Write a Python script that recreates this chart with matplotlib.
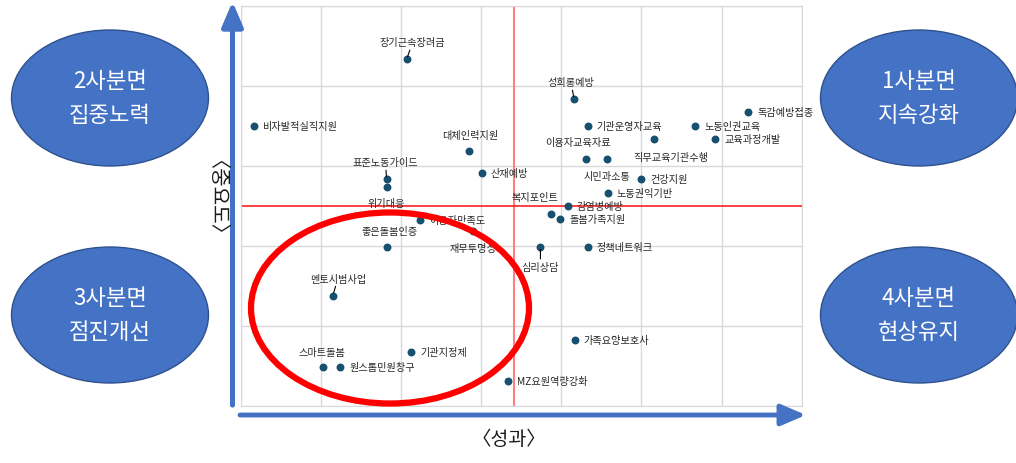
import matplotlib
matplotlib.use("Agg")
import matplotlib.pyplot as plt
from matplotlib.patches import Ellipse

plt.rcParams['font.family'] = ['Noto Sans CJK KR', 'DejaVu Sans']

# 사업별 성과(x) / 중요도(y)
names = ['장기근속장려금', '비자발적실직지원', '대체인력지원', '표준노동가이드', '위기대응',
         '산재예방', '성희롱예방', '독감예방접종', '기관운영자교육', '노동인권교육',
         '직무교육기관수행', '교육과정개발', '이용자교육자료', '시민과소통', '건강지원',
         '노동권익기반', '감염병예방', '복지포인트', '돌봄가족지원', '이용자만족도',
         '좋은돌봄인증', '재무투명성', '심리상담', '정책네트워크', '멘토시범사업',
         '가족요양보호사', '기관지정제', '스마트돌봄', '원스톱민원창구', 'MZ요원역량강화']
perf = [3.507, 3.316, 3.585, 3.482, 3.482,
        3.601, 3.716, 3.933, 3.733, 3.867,
        3.816, 3.892, 3.731, 3.757, 3.800,
        3.758, 3.708, 3.687, 3.699, 3.524,
        3.482, 3.590, 3.674, 3.733, 3.415,
        3.717, 3.513, 3.403, 3.424, 3.633]
imp = [3.933, 3.850, 3.818, 3.783, 3.773,
       3.791, 3.883, 3.867, 3.850, 3.850,
       3.833, 3.833, 3.809, 3.809, 3.784,
       3.766, 3.750, 3.740, 3.733, 3.732,
       3.699, 3.718, 3.699, 3.699, 3.638,
       3.582, 3.567, 3.549, 3.549, 3.531]
perf_mean = 3.641
imp_mean = 3.750

quad_titles = ['1사분면', '2사분면', '3사분면', '4사분면']
quad_texts = ['지속강화', '집중노력', '점진개선', '현상유지']

# label offsets in image pixels (dx, dy downwards), alignment, leader line
R = (9, 0, 'left', False)
label_pos = [(6, -17, 'center', True), R, (1, -16, 'center', False), (-1, -17, 'center', True),
             (0, 16, 'center', False),
             R, (-3, -17, 'center', True), R, R, R,
             (17, 18, 'center', False), R, (-8, -17, 'center', False), (0, 17, 'center', False), R,
             R, R, (-16, -17, 'center', False), R, R,
             (3, -16, 'center', False), (0, 17, 'center', False), (0, 20, 'center', True), R,
             (5, -17, 'center', True),
             R, R, (-1, -15, 'center', False), R, R]

W, H = 1016, 464
fig = plt.figure(figsize=(W / 100, H / 100), dpi=100)
ax = fig.add_axes([240.7 / W, 1 - 407 / H, 561 / W, 400.3 / H])

ax.set_xlim(3.3, 4.0)
ax.set_ylim(3.5, 4.0)
ax.set_xticks([3.3 + 0.1 * i for i in range(8)])
ax.set_yticks([3.5 + 0.1 * i for i in range(6)])
ax.tick_params(length=0, labelbottom=False, labelleft=False)
ax.grid(True, color='#d9d9d9', lw=1)
ax.set_axisbelow(True)
for s in ax.spines.values():
    s.set_color('#d9d9d9')

ax.axvline(perf_mean, color='#ff7f7f', lw=1.5, zorder=2)
ax.axhline(imp_mean, color='#ff2020', lw=1.2, zorder=2)

ax.scatter(perf, imp, s=22, color='#17506f', zorder=3)

for n, x, y, (dx, dy, ha, lead) in zip(names, perf, imp, label_pos):
    kw = {}
    if lead:
        kw['arrowprops'] = dict(arrowstyle='-', color='black', lw=0.8, shrinkA=0, shrinkB=2)
    ax.annotate(n, (x, y), xytext=(dx, -dy), textcoords='offset pixels',
                ha=ha, va='center', fontsize=7.3, color='#262626', zorder=4, **kw)

# quadrant ellipses
quad_centers = [(919, 99), (110, 99), (110, 316), (919, 316)]
for (cx, cy), t1, t2 in zip(quad_centers, quad_titles, quad_texts):
    fig.add_artist(Ellipse((cx / W, 1 - cy / H), 197 / W, 136 / H,
                           transform=fig.transFigure, facecolor='#4472c4',
                           edgecolor='#2f528f', lw=1))
    fig.text(cx / W, 1 - (cy - 17) / H, t1, ha='center', va='center',
             color='white', fontsize=16)
    fig.text(cx / W, 1 - (cy + 17) / H, t2, ha='center', va='center',
             color='white', fontsize=16)

# red circle around 3rd quadrant
fig.add_artist(Ellipse((390 / W, 1 - 309 / H), 278 / W, 191 / H,
                       transform=fig.transFigure, facecolor='none',
                       edgecolor='red', lw=4.5, zorder=5))

# axis arrows
arrow = dict(arrowstyle='-|>,head_length=0.75,head_width=0.32', color='#4472c4',
             lw=3.5, mutation_scale=20, shrinkA=0, shrinkB=0)
fig.add_artist(plt.annotate('', xy=(232.5, H - 3), xytext=(232.5, H - 406),
                            xycoords='figure pixels', textcoords='figure pixels',
                            arrowprops=arrow))
fig.text(509 / W, 1 - 440 / H, '〈성과〉', ha='center', va='center', fontsize=14, color='#1a1a1a')
fig.text(207 / W, 1 - 207 / H, '〈중요도〉', ha='center', va='center', fontsize=14.5,
         color='#1a1a1a', rotation=-90)
ax.annotate('', xy=(806, H - 416), xytext=(240, H - 416),
            xycoords='figure pixels', textcoords='figure pixels',
            arrowprops=arrow, annotation_clip=False)

fig.savefig('out.png', dpi=100)
